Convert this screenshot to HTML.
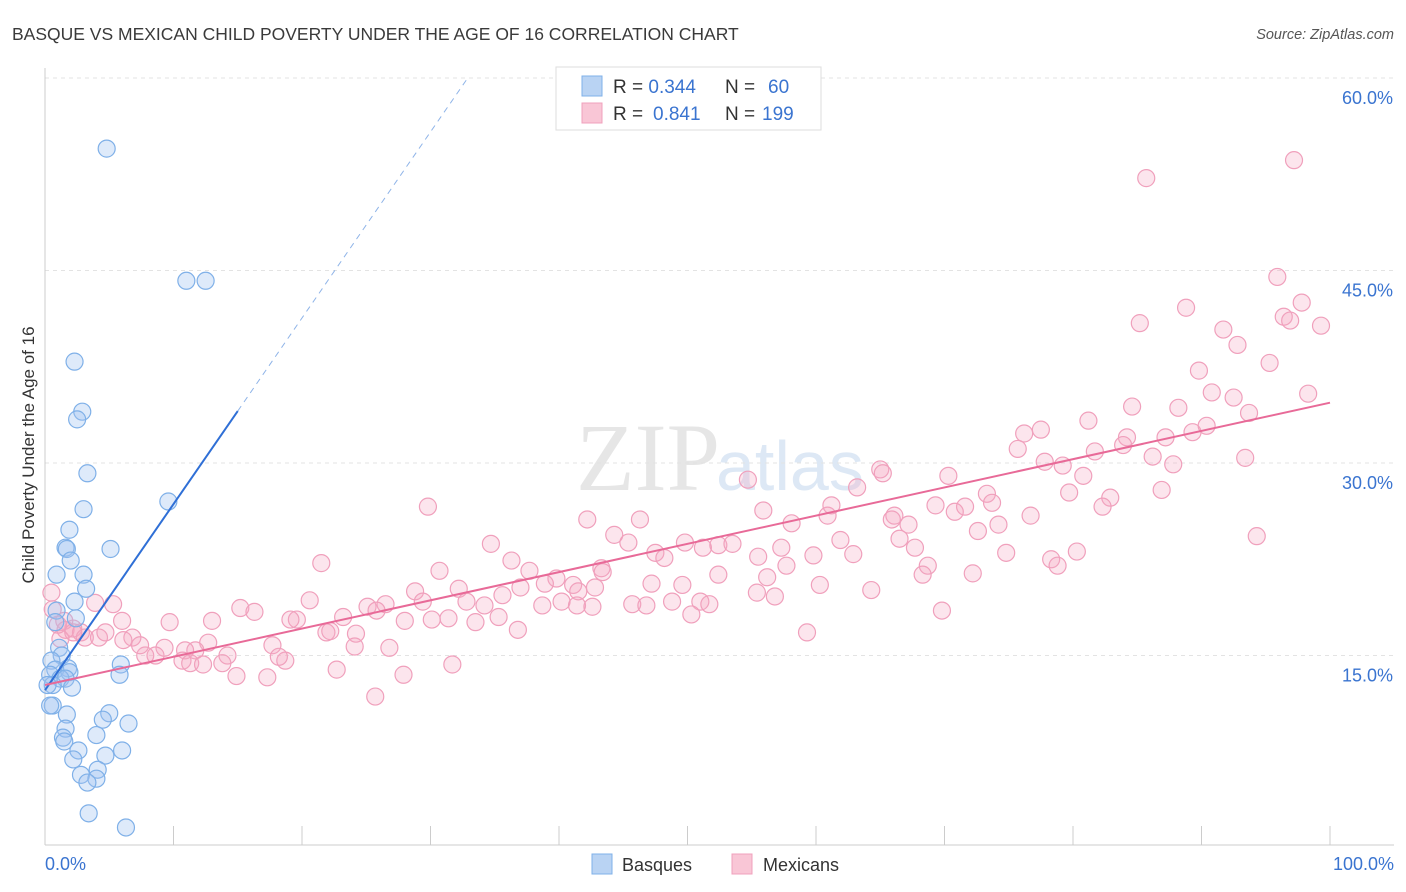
<!DOCTYPE html>
<html><head><meta charset="utf-8"><style>
body{margin:0;background:#fff;font-family:"Liberation Sans",sans-serif;}
svg{display:block}
</style></head><body>
<svg id="chart" width="1406" height="892">
<text x="12" y="40" font-size="17.5" fill="#3a3a3a">BASQUE VS MEXICAN CHILD POVERTY UNDER THE AGE OF 16 CORRELATION CHART</text>
<text x="1394" y="39" font-size="14.5" fill="#555" font-style="italic" text-anchor="end">Source: ZipAtlas.com</text>
<text x="720" y="490" font-size="96" fill="#e6e6e6" text-anchor="end" font-family="Liberation Serif,serif">ZIP</text>
<text x="716" y="490" font-size="70" fill="#dde8f5">atlas</text>
<g id="grid"></g><g id="axes"></g><g id="pts"></g><g id="trend"></g>
<text transform="translate(34,455) rotate(-90)" font-size="17" fill="#333" text-anchor="middle">Child Poverty Under the Age of 16</text>
<g>
<rect x="556" y="67" width="265" height="63" fill="#fff" stroke="#ddd"/>
<rect x="582" y="76" width="20" height="20" fill="#b9d3f3" stroke="#7fb0e8"/>
<rect x="582" y="103" width="20" height="20" fill="#f9c6d6" stroke="#f0a0bc"/>
<text x="613" y="93" font-size="19" fill="#333">R = <tspan fill="#3a74d0">0.344</tspan><tspan x="725">N = </tspan><tspan x="768" fill="#3a74d0">60</tspan></text>
<text x="613" y="120" font-size="19" fill="#333">R = <tspan x="653" fill="#3a74d0">0.841</tspan><tspan x="725">N = </tspan><tspan x="762" fill="#3a74d0">199</tspan></text>
</g>
<g>
<rect x="592" y="854" width="20" height="20" fill="#b9d3f3" stroke="#7fb0e8"/>
<text x="622" y="871" font-size="18" fill="#333">Basques</text>
<rect x="732" y="854" width="20" height="20" fill="#f9c6d6" stroke="#f0a0bc"/>
<text x="763" y="871" font-size="18" fill="#333">Mexicans</text>
</g>
</svg>
<script>
const yTicks=[15,30,45,60];
const yTickLabels=["15.0%","30.0%","45.0%","60.0%"];
const xTickLabels=["0.0%","100.0%"];
const basqueX=[4.8,11.0,12.5,2.3,2.9,2.5,3.3,9.6,3.0,1.9,1.6,1.7,5.1,2.0,0.9,3.0,3.2,2.3,0.9,2.4,0.8,1.1,1.3,0.5,5.9,1.8,0.8,1.9,0.4,1.2,1.6,5.8,0.6,0.2,2.1,0.6,0.4,1.7,5.0,4.5,6.5,1.6,1.4,1.5,4.0,2.6,6.0,4.7,2.2,4.1,2.8,4.0,3.3,3.4,6.3];
const basqueY=[54.5,44.2,44.2,37.9,34.0,33.4,29.2,27.0,26.4,24.8,23.4,23.3,23.3,22.4,21.3,21.3,20.2,19.2,18.5,17.9,17.6,15.6,15.0,14.6,14.3,14.0,13.9,13.7,13.5,13.2,13.2,13.5,12.7,12.7,12.5,11.1,11.1,10.4,10.5,10.0,9.7,9.3,8.6,8.3,8.8,7.6,7.6,7.2,6.9,6.1,5.7,5.4,5.1,2.7,1.6];
const mexX=[97.2,85.7,95.9,97.8,88.8,85.2,96.4,99.3,96.9,91.7,92.8,95.3,89.8,90.8,92.5,98.3,93.7,84.6,81.2,88.2,77.5,76.2,84.2,83.9,87.2,89.3,90.4,81.7,75.7,77.8,86.2,93.4,87.8,79.2,80.8,65.0,65.2,54.7,70.3,79.7,73.3,63.2,82.9,86.9,82.3,73.7,69.3,71.6,29.8,76.7,70.8,66.1,65.9,55.9,60.9,61.2,42.2,46.3,58.1,67.2,74.2,44.3,45.4,66.5,61.9,49.8,51.2,34.7,52.4,53.5,57.3,67.7,94.3,72.6,80.3,74.8,78.3,47.5,48.2,55.5,36.3,62.9,59.8,43.3,78.8,68.7,57.7,72.2,68.3,30.7,21.5,56.2,37.7,43.4,52.4,39.8,47.2,38.9,37.0,49.6,42.8,32.2,41.1,60.3,41.5,64.3,55.4,28.8,35.6,20.6,56.8,51.0,40.2,45.7,48.8,29.4,69.8,46.8,32.8,34.2,42.6,26.5,25.1,41.4,38.7,25.8,51.7,15.2,16.3,13.0,23.2,9.7,19.6,31.4,19.1,30.1,28.0,33.5,35.3,50.3,3.9,5.3,6.0,1.6,2.2,2.8,1.2,3.1,4.2,21.9,22.2,59.3,36.8,24.2,6.8,24.1,26.8,12.7,17.7,18.7,11.7,10.9,9.3,8.6,7.8,10.7,6.1,14.2,13.8,11.3,12.3,18.2,7.4,14.9,17.3,27.9,22.7,31.7,25.7,0.5,0.6,1.5,1.0,2.2,4.7];
const mexY=[53.6,52.2,44.5,42.5,42.1,40.9,41.4,40.7,41.1,40.4,39.2,37.8,37.2,35.5,35.1,35.4,33.9,34.4,33.3,34.3,32.6,32.3,32.0,31.4,32.0,32.4,32.9,30.9,31.1,30.1,30.5,30.4,29.9,29.8,29.0,29.5,29.2,28.7,29.0,27.7,27.6,28.1,27.3,27.9,26.6,26.9,26.7,26.6,26.6,25.9,26.2,25.9,25.6,26.3,25.9,26.7,25.6,25.6,25.3,25.2,25.2,24.4,23.8,24.1,24.0,23.8,23.4,23.7,23.6,23.7,23.4,23.4,24.3,24.7,23.1,23.0,22.5,23.0,22.6,22.7,22.4,22.9,22.8,21.8,22.0,22.0,22.0,21.4,21.3,21.6,22.2,21.1,21.6,21.5,21.3,21.0,20.6,20.6,20.3,20.5,20.3,20.2,20.5,20.5,20.0,20.1,19.9,20.0,19.7,19.3,19.6,19.2,19.2,19.0,19.2,19.2,18.5,18.9,19.2,18.9,18.8,19.0,18.8,18.9,18.9,18.5,19.0,18.7,18.4,17.7,18.0,17.6,17.8,17.9,17.8,17.8,17.7,17.6,18.0,18.2,19.1,19.0,17.7,17.0,17.1,16.8,16.3,16.4,16.4,16.8,16.9,16.8,17.0,16.7,16.4,15.7,15.6,16.0,15.8,14.6,15.4,15.4,15.6,15.0,15.0,14.6,16.2,15.0,14.4,14.4,14.3,14.9,15.8,13.4,13.3,13.5,13.9,14.3,11.8,19.9,18.6,17.7,17.4,16.8,16.8];
const basqueTrend=[12.3,1.45];
const mexTrend=[12.7,0.22];
const NS="http://www.w3.org/2000/svg";
const X0=45,X1=1330,Y0=848,PPY=12.833;
const xs=v=>X0+(X1-X0)*v/100;
const ys=v=>Y0-v*PPY;
function mk(tag,attrs,parent){const e=document.createElementNS(NS,tag);for(const k in attrs)e.setAttribute(k,attrs[k]);parent.appendChild(e);return e;}
const grid=document.getElementById('grid'),axes=document.getElementById('axes'),pts=document.getElementById('pts'),tr=document.getElementById('trend');
mk('line',{x1:45,y1:78,x2:1394,y2:78,stroke:'#e3e3e3','stroke-dasharray':'4,4'},grid);
yTicks.forEach((t,i)=>{
 const l=mk('line',{x1:45,y1:ys(t),x2:1394,y2:ys(t),stroke:'#e3e3e3','stroke-dasharray':'4,4'},grid);
 
 
 const tx=mk('text',{x:1393,y:ys(t)+26,'font-size':18,fill:'#3a74d0','text-anchor':'end'},axes);
 tx.textContent=yTickLabels[i];
 
 
});
mk('line',{x1:45,y1:68,x2:45,y2:845,stroke:'#ccc'},axes);
mk('line',{x1:45,y1:845,x2:1394,y2:845,stroke:'#ccc'},axes);
for(let i=0;i<=10;i++){mk('line',{x1:xs(i*10),y1:826,x2:xs(i*10),y2:845,stroke:'#ccc'},axes);}
const xl0=mk('text',{x:45,y:870,'font-size':18,fill:'#3a74d0'},axes);xl0.textContent=xTickLabels[0];


const xl1=mk('text',{x:1394,y:870,'font-size':18,fill:'#3a74d0','text-anchor':'end'},axes);xl1.textContent=xTickLabels[1];


mexX.forEach((x,i)=>{const c=mk('circle',{cx:xs(x),cy:ys(mexY[i]),r:8.5,fill:'rgba(244,170,195,0.3)',stroke:'#f0a0bc','stroke-width':1.2},pts);
 
 });
basqueX.forEach((x,i)=>{const c=mk('circle',{cx:xs(x),cy:ys(basqueY[i]),r:8.5,fill:'rgba(160,196,240,0.35)',stroke:'#7fb0e8','stroke-width':1.2},pts);
 
 });
const bEnd=15,bDash=(60-basqueTrend[0])/basqueTrend[1];
const bl=mk('line',{x1:xs(0),y1:ys(basqueTrend[0]),x2:xs(bEnd),y2:ys(basqueTrend[0]+basqueTrend[1]*bEnd),stroke:'#2f6fd6','stroke-width':2},tr);


const bd=mk('line',{x1:xs(bEnd),y1:ys(basqueTrend[0]+basqueTrend[1]*bEnd),x2:xs(bDash),y2:ys(60),stroke:'#8fb4e8','stroke-width':1,'stroke-dasharray':'6,5'},tr);


const ml=mk('line',{x1:xs(0),y1:ys(mexTrend[0]),x2:xs(100),y2:ys(mexTrend[0]+mexTrend[1]*100),stroke:'#e86a98','stroke-width':2},tr);


</script>
</body></html>
